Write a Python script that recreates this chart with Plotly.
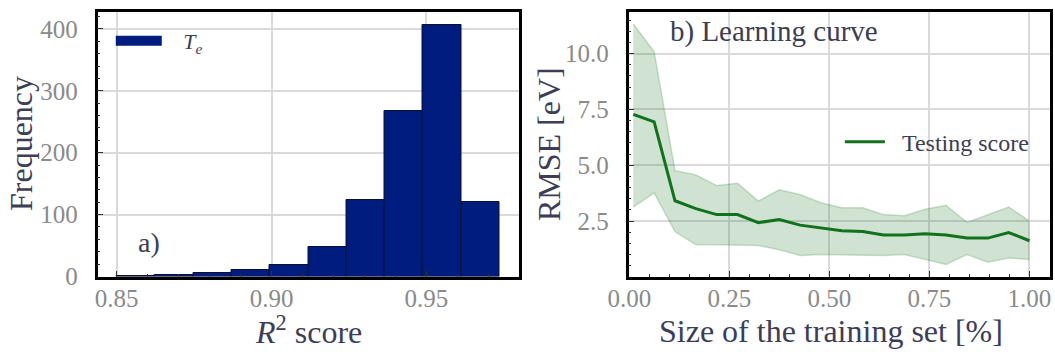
import plotly.graph_objects as go

# ---------------- data ----------------
# (a) histogram of R^2 scores
bin_edges = [0.85, 0.86235, 0.8747, 0.88705, 0.8994, 0.91175,
             0.9241, 0.93645, 0.9488, 0.96115, 0.9735]
counts = [1, 2, 5, 11, 18, 47, 123, 267, 407, 120]

# (b) learning curve
train_size = [0.01, 0.0621, 0.1142, 0.1663, 0.2184, 0.2705, 0.3226, 0.3747,
              0.4268, 0.4789, 0.5311, 0.5832, 0.6353, 0.6874, 0.7395, 0.7916,
              0.8437, 0.8958, 0.9479, 1.0]
rmse_mean = [7.28, 6.94, 3.41, 3.06, 2.79, 2.79, 2.43, 2.57, 2.32, 2.18,
             2.07, 2.03, 1.88, 1.88, 1.93, 1.88, 1.74, 1.74, 1.99, 1.62]
rmse_upper = [11.32, 10.09, 4.76, 4.57, 4.09, 4.19, 3.40, 3.90, 3.69, 3.32,
              3.10, 3.10, 2.79, 2.74, 3.03, 3.21, 2.44, 2.79, 3.13, 2.50]
rmse_lower = [3.13, 3.76, 2.03, 1.44, 1.44, 1.41, 1.41, 1.22, 0.96, 1.00,
              1.00, 0.97, 0.96, 1.00, 0.78, 0.56, 1.00, 0.66, 0.85, 0.78]

hist_ticks = [0.85, 0.90, 0.95]
freq_ticks = [0, 100, 200, 300, 400]
size_ticks = [0.0, 0.25, 0.5, 0.75, 1.0]
rmse_ticks = [2.5, 5.0, 7.5, 10.0]

# ---------------- styles ----------------
FONT = "Liberation Serif"
NAVY = "#001c7f"
GREEN = "#12711c"
FILL = "rgba(18,113,28,0.2)"
TICKC = "#8a8a8a"
TEXTC = "#3d3d55"
GRIDC = "#dadada"
W, H = 1055, 352

centers = [(bin_edges[i] + bin_edges[i + 1]) / 2 for i in range(len(counts))]
widths = [bin_edges[i + 1] - bin_edges[i] for i in range(len(counts))]

fig = go.Figure()

fig.add_trace(go.Bar(
    x=centers, y=counts, width=widths,
    marker=dict(color=NAVY, line=dict(color="#0b1030", width=1)),
    showlegend=False, xaxis="x", yaxis="y"))
# legend entry for the histogram
fig.add_trace(go.Scatter(
    x=[None], y=[None], mode="lines",
    line=dict(color=NAVY, width=16),
    name="&nbsp;&nbsp;&nbsp;<i>T</i><sub><i>e</i></sub>",
    legend="legend", xaxis="x", yaxis="y"))

fig.add_trace(go.Scatter(
    x=train_size, y=rmse_upper, mode="lines",
    line=dict(color=FILL, width=1.5), showlegend=False,
    hoverinfo="skip", xaxis="x2", yaxis="y2"))
fig.add_trace(go.Scatter(
    x=train_size, y=rmse_lower, mode="lines", fill="tonexty",
    fillcolor=FILL, line=dict(color=FILL, width=1.5), showlegend=False,
    hoverinfo="skip", xaxis="x2", yaxis="y2"))
fig.add_trace(go.Scatter(
    x=train_size, y=rmse_mean, mode="lines",
    line=dict(color=GREEN, width=3),
    name="&nbsp;&nbsp;Testing score",
    legend="legend2", xaxis="x2", yaxis="y2"))

axis_common = dict(
    showline=True, linecolor="black", linewidth=2.5, mirror=True,
    showgrid=True, gridcolor=GRIDC, gridwidth=1.5,
    ticks="inside", ticklen=6, tickwidth=1, tickcolor="#333333",
    tickfont=dict(family=FONT, size=25, color=TICKC),
    zeroline=False, automargin=False,
)
title_font = dict(family=FONT, size=32, color=TEXTC)
ydom = [(H - 276.5) / H, (H - 12) / H]
ymid = 1 - 144 / H

fig.update_layout(
    width=W, height=H,
    margin=dict(l=0, r=0, t=0, b=0, autoexpand=False),
    paper_bgcolor="white", plot_bgcolor="white",
    bargap=0,
    xaxis=dict(axis_common, domain=[97.5 / W, 518.5 / W],
               range=[0.8438, 0.9797], ticklabelstandoff=-2,
               tickvals=hist_ticks, ticktext=["0.85", "0.90", "0.95"],
               minor=dict(ticks="inside", ticklen=3, dtick=0.01,
                          tick0=0.85, tickcolor="#333333", showgrid=False),
               anchor="y"),
    yaxis=dict(axis_common, domain=ydom, range=[0, 427.4],
               tickvals=freq_ticks, ticklabelstandoff=12,
               minor=dict(ticks="inside", ticklen=3, dtick=20,
                          tickcolor="#333333", showgrid=False),
               anchor="x"),
    xaxis2=dict(axis_common, domain=[628.5 / W, 1049.5 / W],
                range=[-0.002, 1.05], ticklabelstandoff=-2,
                tickvals=size_ticks,
                ticktext=["0.00", "0.25", "0.50", "0.75", "1.00"],
                minor=dict(ticks="inside", ticklen=3, dtick=0.05,
                           tick0=0, tickcolor="#333333", showgrid=False),
                anchor="y2"),
    yaxis2=dict(axis_common, domain=ydom, range=[0.02, 11.86],
                tickvals=rmse_ticks, ticktext=["2.5", "5.0", "7.5", "10.0"],
                ticklabelstandoff=12,
                minor=dict(ticks="inside", ticklen=3, dtick=0.5,
                           tick0=0, tickcolor="#333333", showgrid=False),
                anchor="x2"),
    legend=dict(x=0.105, y=0.9435, xanchor="left", yanchor="top",
                bgcolor="rgba(0,0,0,0)", itemwidth=46,
                font=dict(family=FONT, size=22, color=TEXTC)),
    legend2=dict(x=0.980, y=0.596, xanchor="right", yanchor="middle",
                 bgcolor="rgba(0,0,0,0)", itemwidth=40,
                 font=dict(family=FONT, size=24, color=TEXTC)),
    annotations=[
        # axis titles
        dict(text="Frequency", xref="paper", yref="paper", x=21 / W,
             y=ymid, textangle=-90, xanchor="center", yanchor="middle",
             showarrow=False, font=title_font),
        dict(text="RMSE [eV]", xref="paper", yref="paper", x=549 / W,
             y=ymid, textangle=-90, xanchor="center", yanchor="middle",
             showarrow=False, font=title_font),
        dict(text="<i>R</i><sup>2</sup> score", xref="paper", yref="paper",
             x=308 / W, y=1 - 330 / H, xanchor="center", yanchor="middle",
             showarrow=False, font=title_font),
        dict(text="Size of the training set [%]", xref="paper",
             yref="paper", x=831 / W, y=1 - 331 / H, xanchor="center",
             yanchor="middle", showarrow=False, font=title_font),
        # panel labels
        dict(text="a)", xref="paper", yref="paper", x=136 / W,
             y=1 - 242 / H, xanchor="left", yanchor="middle",
             showarrow=False, font=dict(family=FONT, size=28, color=TEXTC)),
        dict(text="b) Learning curve", xref="paper", yref="paper",
             x=668 / W, y=1 - 31 / H, xanchor="left", yanchor="middle",
             showarrow=False, font=dict(family=FONT, size=29, color=TEXTC)),
    ],
)

fig.write_html("out.html",
               config={"displayModeBar": False},
               post_script="document.body.style.margin='0';"
                           "document.body.style.overflow='hidden';")
